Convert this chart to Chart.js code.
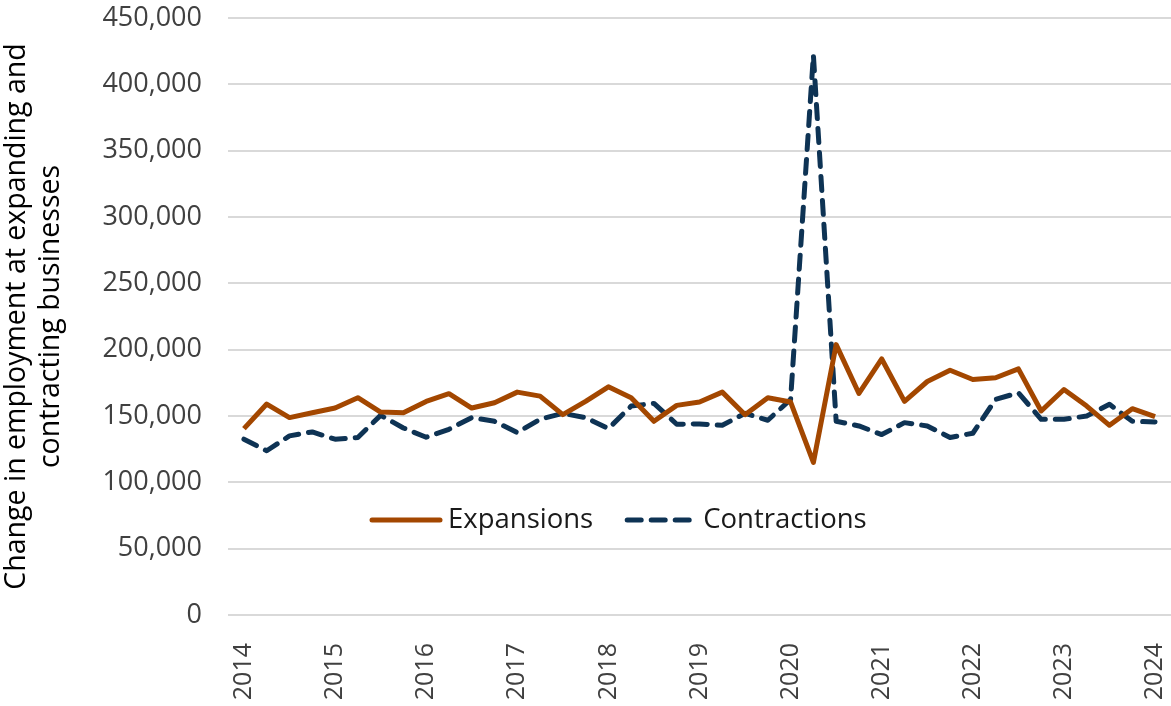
<!DOCTYPE html>
<html lang="en">
<head>
    <meta charset="UTF-8">
    <title>Expansions and Contractions</title>
    <script src="https://cdn.jsdelivr.net/npm/chart.js"></script>
    <style>
        html, body { margin: 0; padding: 0; background: #fff; }
        #wrap { width: 1171px; height: 706px; position: relative; }
    </style>
</head>
<body>
    <div id="wrap"><canvas id="empChart"></canvas></div>

    <script>
        // Quarterly data, 2014 Q1 through 2024 Q1
        const quarters = [];
        for (let y = 2014; y <= 2024; y++) {
            for (let q = 1; q <= 4; q++) {
                if (y === 2024 && q > 1) break;
                quarters.push(y + ' Q' + q);
            }
        }

        const yearTicks = ['2014', '2015', '2016', '2017', '2018', '2019', '2020', '2021', '2022', '2023', '2024'];

        const expansions = [
            140500, 159000, 148800, 152500, 156000, 163800, 153000, 152500, 161000, 166800,
            156000, 160000, 168000, 165000, 151000, 161000, 172000, 163800, 146000, 158000,
            160500, 168000, 151000, 163800, 160500, 115000, 203800, 167000, 193000, 161000,
            176000, 184500, 177500, 178800, 185500, 153800, 170000, 157500, 143000, 155500,
            149500
        ];

        const contractions = [
            132500, 123800, 135000, 138000, 132500, 133800, 150500, 141000, 134000, 140000,
            148800, 146000, 137500, 147500, 152000, 148800, 140500, 157500, 159500, 143800,
            144000, 143000, 152000, 146800, 162500, 422000, 146000, 142500, 136000, 145000,
            142500, 133800, 137000, 162500, 167500, 147500, 147500, 150000, 158800, 146000,
            145500
        ];

        const orange = '#A34700';
        const navy = '#0E3354';
        const fontFamily = '"Open Sans", sans-serif';

        // legend drawn inside the plot, like the original
        const insideLegend = {
            id: 'insideLegend',
            afterDatasetsDraw(chart) {
                const ctx = chart.ctx;
                const area = chart.chartArea;
                const y = area.bottom - 95;
                let x = area.left + 142;
                const items = [
                    { text: 'Expansions', color: orange, dash: [] },
                    { text: 'Contractions', color: navy, dash: [14, 10] }
                ];
                ctx.save();
                ctx.font = '27.5px ' + fontFamily;
                ctx.textBaseline = 'middle';
                items.forEach(item => {
                    ctx.beginPath();
                    ctx.setLineDash(item.dash);
                    ctx.lineCap = 'round';
                    ctx.lineWidth = 5;
                    ctx.strokeStyle = item.color;
                    ctx.moveTo(x + 2, y);
                    ctx.lineTo(x + 70, y);
                    ctx.stroke();
                    ctx.setLineDash([]);
                    ctx.fillStyle = '#1a1a1a';
                    ctx.fillText(item.text, x + 78, y);
                    x += 78 + ctx.measureText(item.text).width + 32;
                });
                ctx.restore();
            }
        };

        const ctx = document.getElementById('empChart').getContext('2d');
        new Chart(ctx, {
            type: 'line',
            data: {
                datasets: [
                    {
                        label: 'Expansions',
                        data: expansions.map((v, i) => ({ x: i, y: v })),
                        borderColor: orange,
                        backgroundColor: orange,
                        borderWidth: 5,
                        pointRadius: 0,
                        tension: 0,
                        borderJoinStyle: 'round'
                    },
                    {
                        label: 'Contractions',
                        data: contractions.map((v, i) => ({ x: i, y: v })),
                        borderColor: navy,
                        backgroundColor: navy,
                        borderWidth: 5,
                        borderDash: [14, 10],
                        borderCapStyle: 'round',
                        borderJoinStyle: 'round',
                        pointRadius: 0,
                        tension: 0
                    }
                ]
            },
            options: {
                responsive: true,
                maintainAspectRatio: false,
                animation: false,
                layout: { padding: { top: 18, right: 0, left: 0, bottom: 0 } },
                scales: {
                    x: {
                        type: 'linear',
                        min: -0.7,
                        max: quarters.length - 1 + 0.7,
                        afterBuildTicks: scale => {
                            scale.ticks = yearTicks.map((t, i) => ({ value: i * 4 }));
                        },
                        afterFit: scale => {
                            scale.height = 91;
                            scale.paddingLeft = 0;
                            scale.paddingRight = 0;
                        },
                        grid: { display: false },
                        border: { display: false },
                        ticks: {
                            autoSkip: false,
                            minRotation: 90,
                            maxRotation: 90,
                            padding: 20,
                            color: '#404040',
                            font: { size: 25, family: fontFamily },
                            callback: v => yearTicks[Math.round(v / 4)]
                        }
                    },
                    y: {
                        min: 0,
                        max: 450000,
                        afterFit: scale => {
                            scale.width = 228;
                            scale.paddingTop = 0;
                            scale.paddingBottom = 0;
                        },
                        grid: { color: '#d9d9d9', lineWidth: 2, drawTicks: false },
                        border: { display: false },
                        ticks: {
                            stepSize: 50000,
                            padding: 26,
                            color: '#404040',
                            font: { size: 27, family: fontFamily },
                            callback: v => v.toLocaleString('en-US')
                        },
                        title: {
                            display: true,
                            text: ['Change in employment at expanding and', 'contracting businesses'],
                            color: '#000',
                            font: { size: 28.5, family: fontFamily, lineHeight: 1.2 },
                            padding: { top: 0, bottom: 0 }
                        }
                    }
                },
                plugins: {
                    legend: { display: false },
                    tooltip: { enabled: false }
                }
            },
            plugins: [insideLegend]
        });
    </script>
</body>
</html>
